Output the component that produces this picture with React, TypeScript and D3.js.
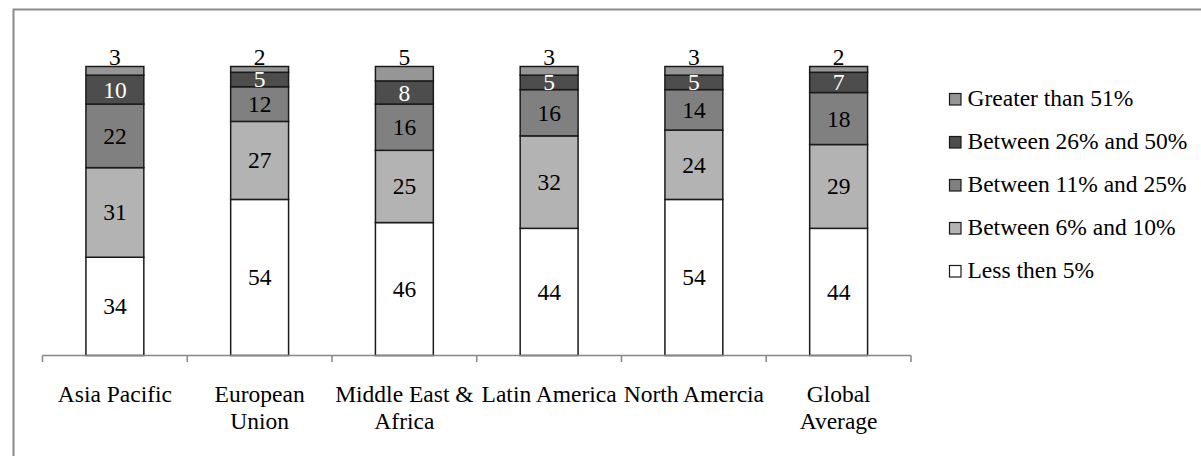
import React from 'react';
import * as d3 from 'd3';

const categories = ['Asia Pacific', 'European\nUnion', 'Middle East &\nAfrica', 'Latin America', 'North Amercia', 'Global\nAverage'];
const seriesNames = ['Less then 5%', 'Between 6% and 10%', 'Between 11% and 25%', 'Between 26% and 50%', 'Greater than 51%'];
const lessThen5 = [34, 54, 46, 44, 54, 44];
const between6and10 = [31, 27, 25, 32, 24, 29];
const between11and25 = [22, 12, 16, 16, 14, 18];
const between26and50 = [10, 5, 8, 5, 5, 7];
const greaterThan51 = [3, 2, 5, 3, 3, 2];

const fills = ['#ffffff', '#b3b3b3', '#808080', '#4d4d4d', '#969696'];
const labelColors = ['#000', '#000', '#000', '#fff', '#000'];

const W = 1201;
const H = 456;
const FONT = "'Liberation Serif', 'Times New Roman', 'DejaVu Serif', serif";
const FS = 23.5;

const App: React.FC = () => {
  const values = [lessThen5, between6and10, between11and25, between26and50, greaterThan51];
  const rows = categories.map((c, i) => {
    const r: Record<string, number | string> = { cat: c };
    seriesNames.forEach((s, k) => { r[s] = values[k][i]; });
    return r;
  });
  const stacked = d3.stack<Record<string, number | string>>().keys(seriesNames)(rows);

  const x = d3.scaleBand().domain(categories).range([42.5, 911]);
  const y = d3.scaleLinear().domain([0, 100]).range([355.5, 66.5]);
  const barW = x.bandwidth() * 0.4;
  const axisY = y(0);

  const ticks = categories.map(c => x(c) || 0).concat([911]);

  return (
    <svg width={W} height={H} style={{ position: 'absolute', left: 0, top: 0, background: '#fff', fontFamily: FONT, fontSize: FS }}>
      <rect x={0} y={0} width={W} height={H} fill="#fff" />
      {/* chart frame, only top and left visible */}
      <rect x={13.5} y={9.5} width={1300} height={600} fill="none" stroke="#8c8c8c" strokeWidth={2} />

      {stacked.map((layer, k) => (
        <g key={layer.key}>
          {layer.map((d, i) => {
            const cx = (x(categories[i]) || 0) + x.bandwidth() / 2;
            return (
              <rect key={i} x={cx - barW / 2} y={y(d[1])} width={barW} height={y(d[0]) - y(d[1])}
                fill={fills[k]} stroke="#1a1a1a" strokeWidth={1.5} />
            );
          })}
        </g>
      ))}

      {stacked.map((layer, k) => (
        <g key={'l' + layer.key} fill={labelColors[k]} textAnchor="middle">
          {layer.map((d, i) => {
            const cx = (x(categories[i]) || 0) + x.bandwidth() / 2;
            const top = k === stacked.length - 1;
            const yy = top ? y(d[1]) - 1.5 : (y(d[0]) + y(d[1])) / 2 + FS * 0.34;
            return <text key={i} x={cx} y={yy}>{values[k][i]}</text>;
          })}
        </g>
      ))}

      {/* x axis */}
      <line x1={42.5} x2={911} y1={axisY} y2={axisY} stroke="#868686" strokeWidth={1.5} />
      {ticks.map((t, i) => (
        <line key={i} x1={t} x2={t} y1={axisY} y2={axisY + 6.5} stroke="#868686" strokeWidth={1.5} />
      ))}
      {categories.map(c => {
        const cx = (x(c) || 0) + x.bandwidth() / 2;
        return (
          <text key={c} x={cx} textAnchor="middle" fill="#000">
            {c.split('\n').map((line, j) => (
              <tspan key={j} x={cx} y={401.7 + j * 27.5}>{line}</tspan>
            ))}
          </text>
        );
      })}

      {/* legend */}
      {seriesNames.slice().reverse().map((s, j) => {
        const k = seriesNames.length - 1 - j;
        const base = 105.5 + j * 43;
        return (
          <g key={s}>
            <rect x={949.5} y={base - 12} width={11.5} height={11.5} fill={fills[k]} stroke="#1a1a1a" strokeWidth={1.2} />
            <text x={967.5} y={base} fill="#000">{s}</text>
          </g>
        );
      })}
    </svg>
  );
};

export default App;
